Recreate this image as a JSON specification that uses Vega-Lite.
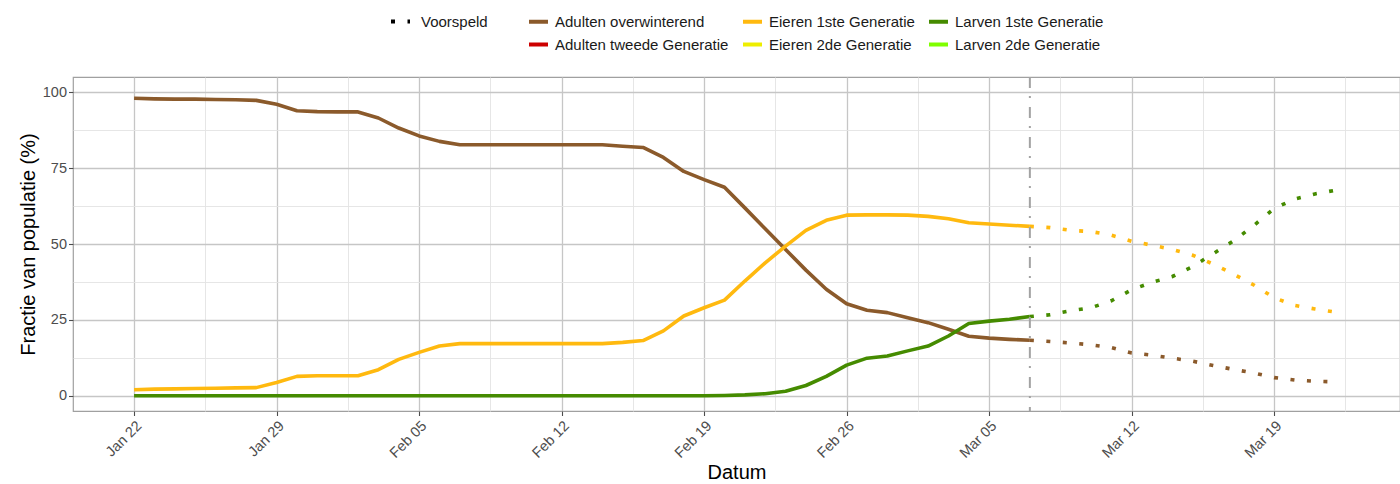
{
  "$schema": "https://vega.github.io/schema/vega-lite/v6.json",
  "width": 1327,
  "height": 334,
  "autosize": {"type": "none"},
  "padding": {"left": 73, "top": 77, "right": 0, "bottom": 73},
  "background": "white",
  "config": {
    "font": "Liberation Sans",
    "view": {"stroke": "#a0a0a0", "strokeWidth": 1.2}
  },
  "datasets": {
    "measured": [
      {"date": "2023-01-22T00:00", "series": "Adulten overwinterend", "value": 98.0},
      {"date": "2023-01-23T00:00", "series": "Adulten overwinterend", "value": 97.8},
      {"date": "2023-01-24T00:00", "series": "Adulten overwinterend", "value": 97.7},
      {"date": "2023-01-25T00:00", "series": "Adulten overwinterend", "value": 97.7},
      {"date": "2023-01-26T00:00", "series": "Adulten overwinterend", "value": 97.6},
      {"date": "2023-01-27T00:00", "series": "Adulten overwinterend", "value": 97.5},
      {"date": "2023-01-28T00:00", "series": "Adulten overwinterend", "value": 97.3},
      {"date": "2023-01-29T00:00", "series": "Adulten overwinterend", "value": 96.0},
      {"date": "2023-01-30T00:00", "series": "Adulten overwinterend", "value": 93.9},
      {"date": "2023-01-31T00:00", "series": "Adulten overwinterend", "value": 93.6},
      {"date": "2023-02-01T00:00", "series": "Adulten overwinterend", "value": 93.5},
      {"date": "2023-02-02T00:00", "series": "Adulten overwinterend", "value": 93.5},
      {"date": "2023-02-03T00:00", "series": "Adulten overwinterend", "value": 91.5},
      {"date": "2023-02-04T00:00", "series": "Adulten overwinterend", "value": 88.2},
      {"date": "2023-02-05T00:00", "series": "Adulten overwinterend", "value": 85.6},
      {"date": "2023-02-06T00:00", "series": "Adulten overwinterend", "value": 83.8},
      {"date": "2023-02-07T00:00", "series": "Adulten overwinterend", "value": 82.7},
      {"date": "2023-02-08T00:00", "series": "Adulten overwinterend", "value": 82.7},
      {"date": "2023-02-09T00:00", "series": "Adulten overwinterend", "value": 82.7},
      {"date": "2023-02-10T00:00", "series": "Adulten overwinterend", "value": 82.7},
      {"date": "2023-02-11T00:00", "series": "Adulten overwinterend", "value": 82.7},
      {"date": "2023-02-12T00:00", "series": "Adulten overwinterend", "value": 82.7},
      {"date": "2023-02-13T00:00", "series": "Adulten overwinterend", "value": 82.7},
      {"date": "2023-02-14T00:00", "series": "Adulten overwinterend", "value": 82.7},
      {"date": "2023-02-15T00:00", "series": "Adulten overwinterend", "value": 82.2},
      {"date": "2023-02-16T00:00", "series": "Adulten overwinterend", "value": 81.8},
      {"date": "2023-02-17T00:00", "series": "Adulten overwinterend", "value": 78.5},
      {"date": "2023-02-18T00:00", "series": "Adulten overwinterend", "value": 73.9},
      {"date": "2023-02-19T00:00", "series": "Adulten overwinterend", "value": 71.2},
      {"date": "2023-02-20T00:00", "series": "Adulten overwinterend", "value": 68.7},
      {"date": "2023-02-21T00:00", "series": "Adulten overwinterend", "value": 61.9},
      {"date": "2023-02-22T00:00", "series": "Adulten overwinterend", "value": 55.0},
      {"date": "2023-02-23T00:00", "series": "Adulten overwinterend", "value": 48.2},
      {"date": "2023-02-24T00:00", "series": "Adulten overwinterend", "value": 41.4},
      {"date": "2023-02-25T00:00", "series": "Adulten overwinterend", "value": 35.1},
      {"date": "2023-02-26T00:00", "series": "Adulten overwinterend", "value": 30.3},
      {"date": "2023-02-27T00:00", "series": "Adulten overwinterend", "value": 28.2},
      {"date": "2023-02-28T00:00", "series": "Adulten overwinterend", "value": 27.4},
      {"date": "2023-03-01T00:00", "series": "Adulten overwinterend", "value": 25.7},
      {"date": "2023-03-02T00:00", "series": "Adulten overwinterend", "value": 24.1},
      {"date": "2023-03-03T00:00", "series": "Adulten overwinterend", "value": 21.9},
      {"date": "2023-03-04T00:00", "series": "Adulten overwinterend", "value": 19.6},
      {"date": "2023-03-05T00:00", "series": "Adulten overwinterend", "value": 19.0},
      {"date": "2023-03-06T00:00", "series": "Adulten overwinterend", "value": 18.6},
      {"date": "2023-03-07T00:00", "series": "Adulten overwinterend", "value": 18.3},
      {"date": "2023-01-22T00:00", "series": "Eieren 1ste Generatie", "value": 2.0},
      {"date": "2023-01-23T00:00", "series": "Eieren 1ste Generatie", "value": 2.2},
      {"date": "2023-01-24T00:00", "series": "Eieren 1ste Generatie", "value": 2.3},
      {"date": "2023-01-25T00:00", "series": "Eieren 1ste Generatie", "value": 2.4},
      {"date": "2023-01-26T00:00", "series": "Eieren 1ste Generatie", "value": 2.5},
      {"date": "2023-01-27T00:00", "series": "Eieren 1ste Generatie", "value": 2.6},
      {"date": "2023-01-28T00:00", "series": "Eieren 1ste Generatie", "value": 2.7},
      {"date": "2023-01-29T00:00", "series": "Eieren 1ste Generatie", "value": 4.4},
      {"date": "2023-01-30T00:00", "series": "Eieren 1ste Generatie", "value": 6.4},
      {"date": "2023-01-31T00:00", "series": "Eieren 1ste Generatie", "value": 6.6},
      {"date": "2023-02-01T00:00", "series": "Eieren 1ste Generatie", "value": 6.6},
      {"date": "2023-02-02T00:00", "series": "Eieren 1ste Generatie", "value": 6.6},
      {"date": "2023-02-03T00:00", "series": "Eieren 1ste Generatie", "value": 8.6},
      {"date": "2023-02-04T00:00", "series": "Eieren 1ste Generatie", "value": 12.0},
      {"date": "2023-02-05T00:00", "series": "Eieren 1ste Generatie", "value": 14.3},
      {"date": "2023-02-06T00:00", "series": "Eieren 1ste Generatie", "value": 16.4},
      {"date": "2023-02-07T00:00", "series": "Eieren 1ste Generatie", "value": 17.2},
      {"date": "2023-02-08T00:00", "series": "Eieren 1ste Generatie", "value": 17.2},
      {"date": "2023-02-09T00:00", "series": "Eieren 1ste Generatie", "value": 17.2},
      {"date": "2023-02-10T00:00", "series": "Eieren 1ste Generatie", "value": 17.2},
      {"date": "2023-02-11T00:00", "series": "Eieren 1ste Generatie", "value": 17.2},
      {"date": "2023-02-12T00:00", "series": "Eieren 1ste Generatie", "value": 17.2},
      {"date": "2023-02-13T00:00", "series": "Eieren 1ste Generatie", "value": 17.2},
      {"date": "2023-02-14T00:00", "series": "Eieren 1ste Generatie", "value": 17.2},
      {"date": "2023-02-15T00:00", "series": "Eieren 1ste Generatie", "value": 17.6},
      {"date": "2023-02-16T00:00", "series": "Eieren 1ste Generatie", "value": 18.2},
      {"date": "2023-02-17T00:00", "series": "Eieren 1ste Generatie", "value": 21.4},
      {"date": "2023-02-18T00:00", "series": "Eieren 1ste Generatie", "value": 26.3},
      {"date": "2023-02-19T00:00", "series": "Eieren 1ste Generatie", "value": 29.0},
      {"date": "2023-02-20T00:00", "series": "Eieren 1ste Generatie", "value": 31.5},
      {"date": "2023-02-21T00:00", "series": "Eieren 1ste Generatie", "value": 37.8},
      {"date": "2023-02-22T00:00", "series": "Eieren 1ste Generatie", "value": 43.8},
      {"date": "2023-02-23T00:00", "series": "Eieren 1ste Generatie", "value": 49.3},
      {"date": "2023-02-24T00:00", "series": "Eieren 1ste Generatie", "value": 54.5},
      {"date": "2023-02-25T00:00", "series": "Eieren 1ste Generatie", "value": 57.8},
      {"date": "2023-02-26T00:00", "series": "Eieren 1ste Generatie", "value": 59.5},
      {"date": "2023-02-27T00:00", "series": "Eieren 1ste Generatie", "value": 59.6},
      {"date": "2023-02-28T00:00", "series": "Eieren 1ste Generatie", "value": 59.6},
      {"date": "2023-03-01T00:00", "series": "Eieren 1ste Generatie", "value": 59.5},
      {"date": "2023-03-02T00:00", "series": "Eieren 1ste Generatie", "value": 59.1},
      {"date": "2023-03-03T00:00", "series": "Eieren 1ste Generatie", "value": 58.3},
      {"date": "2023-03-04T00:00", "series": "Eieren 1ste Generatie", "value": 57.0},
      {"date": "2023-03-05T00:00", "series": "Eieren 1ste Generatie", "value": 56.6},
      {"date": "2023-03-06T00:00", "series": "Eieren 1ste Generatie", "value": 56.2},
      {"date": "2023-03-07T00:00", "series": "Eieren 1ste Generatie", "value": 55.8},
      {"date": "2023-01-22T00:00", "series": "Larven 1ste Generatie", "value": 0},
      {"date": "2023-01-23T00:00", "series": "Larven 1ste Generatie", "value": 0},
      {"date": "2023-01-24T00:00", "series": "Larven 1ste Generatie", "value": 0},
      {"date": "2023-01-25T00:00", "series": "Larven 1ste Generatie", "value": 0},
      {"date": "2023-01-26T00:00", "series": "Larven 1ste Generatie", "value": 0},
      {"date": "2023-01-27T00:00", "series": "Larven 1ste Generatie", "value": 0},
      {"date": "2023-01-28T00:00", "series": "Larven 1ste Generatie", "value": 0},
      {"date": "2023-01-29T00:00", "series": "Larven 1ste Generatie", "value": 0},
      {"date": "2023-01-30T00:00", "series": "Larven 1ste Generatie", "value": 0},
      {"date": "2023-01-31T00:00", "series": "Larven 1ste Generatie", "value": 0},
      {"date": "2023-02-01T00:00", "series": "Larven 1ste Generatie", "value": 0},
      {"date": "2023-02-02T00:00", "series": "Larven 1ste Generatie", "value": 0},
      {"date": "2023-02-03T00:00", "series": "Larven 1ste Generatie", "value": 0},
      {"date": "2023-02-04T00:00", "series": "Larven 1ste Generatie", "value": 0},
      {"date": "2023-02-05T00:00", "series": "Larven 1ste Generatie", "value": 0},
      {"date": "2023-02-06T00:00", "series": "Larven 1ste Generatie", "value": 0},
      {"date": "2023-02-07T00:00", "series": "Larven 1ste Generatie", "value": 0},
      {"date": "2023-02-08T00:00", "series": "Larven 1ste Generatie", "value": 0},
      {"date": "2023-02-09T00:00", "series": "Larven 1ste Generatie", "value": 0},
      {"date": "2023-02-10T00:00", "series": "Larven 1ste Generatie", "value": 0},
      {"date": "2023-02-11T00:00", "series": "Larven 1ste Generatie", "value": 0},
      {"date": "2023-02-12T00:00", "series": "Larven 1ste Generatie", "value": 0},
      {"date": "2023-02-13T00:00", "series": "Larven 1ste Generatie", "value": 0},
      {"date": "2023-02-14T00:00", "series": "Larven 1ste Generatie", "value": 0},
      {"date": "2023-02-15T00:00", "series": "Larven 1ste Generatie", "value": 0},
      {"date": "2023-02-16T00:00", "series": "Larven 1ste Generatie", "value": 0},
      {"date": "2023-02-17T00:00", "series": "Larven 1ste Generatie", "value": 0},
      {"date": "2023-02-18T00:00", "series": "Larven 1ste Generatie", "value": 0},
      {"date": "2023-02-19T00:00", "series": "Larven 1ste Generatie", "value": 0},
      {"date": "2023-02-20T00:00", "series": "Larven 1ste Generatie", "value": 0.1},
      {"date": "2023-02-21T00:00", "series": "Larven 1ste Generatie", "value": 0.3},
      {"date": "2023-02-22T00:00", "series": "Larven 1ste Generatie", "value": 0.7},
      {"date": "2023-02-23T00:00", "series": "Larven 1ste Generatie", "value": 1.5},
      {"date": "2023-02-24T00:00", "series": "Larven 1ste Generatie", "value": 3.4},
      {"date": "2023-02-25T00:00", "series": "Larven 1ste Generatie", "value": 6.4},
      {"date": "2023-02-26T00:00", "series": "Larven 1ste Generatie", "value": 10.1},
      {"date": "2023-02-27T00:00", "series": "Larven 1ste Generatie", "value": 12.4},
      {"date": "2023-02-28T00:00", "series": "Larven 1ste Generatie", "value": 13.1},
      {"date": "2023-03-01T00:00", "series": "Larven 1ste Generatie", "value": 14.8},
      {"date": "2023-03-02T00:00", "series": "Larven 1ste Generatie", "value": 16.4},
      {"date": "2023-03-03T00:00", "series": "Larven 1ste Generatie", "value": 19.7},
      {"date": "2023-03-04T00:00", "series": "Larven 1ste Generatie", "value": 23.8},
      {"date": "2023-03-05T00:00", "series": "Larven 1ste Generatie", "value": 24.6},
      {"date": "2023-03-06T00:00", "series": "Larven 1ste Generatie", "value": 25.2},
      {"date": "2023-03-07T00:00", "series": "Larven 1ste Generatie", "value": 26.1}
    ],
    "forecast": [
      {"date": "2023-03-07T00:00", "series": "Adulten overwinterend", "value": 18.3, "type": "Voorspeld"},
      {"date": "2023-03-08T00:00", "series": "Adulten overwinterend", "value": 17.9, "type": "Voorspeld"},
      {"date": "2023-03-09T00:00", "series": "Adulten overwinterend", "value": 17.4, "type": "Voorspeld"},
      {"date": "2023-03-10T00:00", "series": "Adulten overwinterend", "value": 16.8, "type": "Voorspeld"},
      {"date": "2023-03-11T00:00", "series": "Adulten overwinterend", "value": 15.9, "type": "Voorspeld"},
      {"date": "2023-03-12T00:00", "series": "Adulten overwinterend", "value": 14.1, "type": "Voorspeld"},
      {"date": "2023-03-13T00:00", "series": "Adulten overwinterend", "value": 13.4, "type": "Voorspeld"},
      {"date": "2023-03-14T00:00", "series": "Adulten overwinterend", "value": 12.4, "type": "Voorspeld"},
      {"date": "2023-03-15T00:00", "series": "Adulten overwinterend", "value": 11.4, "type": "Voorspeld"},
      {"date": "2023-03-16T00:00", "series": "Adulten overwinterend", "value": 10.0, "type": "Voorspeld"},
      {"date": "2023-03-17T00:00", "series": "Adulten overwinterend", "value": 8.7, "type": "Voorspeld"},
      {"date": "2023-03-18T00:00", "series": "Adulten overwinterend", "value": 7.5, "type": "Voorspeld"},
      {"date": "2023-03-19T00:00", "series": "Adulten overwinterend", "value": 6.0, "type": "Voorspeld"},
      {"date": "2023-03-20T00:00", "series": "Adulten overwinterend", "value": 5.2, "type": "Voorspeld"},
      {"date": "2023-03-21T00:00", "series": "Adulten overwinterend", "value": 4.8, "type": "Voorspeld"},
      {"date": "2023-03-22T00:00", "series": "Adulten overwinterend", "value": 4.6, "type": "Voorspeld"},
      {"date": "2023-03-07T00:00", "series": "Eieren 1ste Generatie", "value": 55.8, "type": "Voorspeld"},
      {"date": "2023-03-08T00:00", "series": "Eieren 1ste Generatie", "value": 55.4, "type": "Voorspeld"},
      {"date": "2023-03-09T00:00", "series": "Eieren 1ste Generatie", "value": 54.5, "type": "Voorspeld"},
      {"date": "2023-03-10T00:00", "series": "Eieren 1ste Generatie", "value": 54.1, "type": "Voorspeld"},
      {"date": "2023-03-11T00:00", "series": "Eieren 1ste Generatie", "value": 52.9, "type": "Voorspeld"},
      {"date": "2023-03-12T00:00", "series": "Eieren 1ste Generatie", "value": 50.9, "type": "Voorspeld"},
      {"date": "2023-03-13T00:00", "series": "Eieren 1ste Generatie", "value": 49.6, "type": "Voorspeld"},
      {"date": "2023-03-14T00:00", "series": "Eieren 1ste Generatie", "value": 48.2, "type": "Voorspeld"},
      {"date": "2023-03-15T00:00", "series": "Eieren 1ste Generatie", "value": 46.3, "type": "Voorspeld"},
      {"date": "2023-03-16T00:00", "series": "Eieren 1ste Generatie", "value": 43.4, "type": "Voorspeld"},
      {"date": "2023-03-17T00:00", "series": "Eieren 1ste Generatie", "value": 40.1, "type": "Voorspeld"},
      {"date": "2023-03-18T00:00", "series": "Eieren 1ste Generatie", "value": 36.5, "type": "Voorspeld"},
      {"date": "2023-03-19T00:00", "series": "Eieren 1ste Generatie", "value": 32.3, "type": "Voorspeld"},
      {"date": "2023-03-20T00:00", "series": "Eieren 1ste Generatie", "value": 29.8, "type": "Voorspeld"},
      {"date": "2023-03-21T00:00", "series": "Eieren 1ste Generatie", "value": 28.6, "type": "Voorspeld"},
      {"date": "2023-03-22T00:00", "series": "Eieren 1ste Generatie", "value": 27.6, "type": "Voorspeld"},
      {"date": "2023-03-07T00:00", "series": "Larven 1ste Generatie", "value": 26.1, "type": "Voorspeld"},
      {"date": "2023-03-08T00:00", "series": "Larven 1ste Generatie", "value": 26.7, "type": "Voorspeld"},
      {"date": "2023-03-09T00:00", "series": "Larven 1ste Generatie", "value": 28.0, "type": "Voorspeld"},
      {"date": "2023-03-10T00:00", "series": "Larven 1ste Generatie", "value": 29.0, "type": "Voorspeld"},
      {"date": "2023-03-11T00:00", "series": "Larven 1ste Generatie", "value": 31.3, "type": "Voorspeld"},
      {"date": "2023-03-12T00:00", "series": "Larven 1ste Generatie", "value": 34.9, "type": "Voorspeld"},
      {"date": "2023-03-13T00:00", "series": "Larven 1ste Generatie", "value": 37.4, "type": "Voorspeld"},
      {"date": "2023-03-14T00:00", "series": "Larven 1ste Generatie", "value": 39.3, "type": "Voorspeld"},
      {"date": "2023-03-15T00:00", "series": "Larven 1ste Generatie", "value": 42.6, "type": "Voorspeld"},
      {"date": "2023-03-16T00:00", "series": "Larven 1ste Generatie", "value": 46.8, "type": "Voorspeld"},
      {"date": "2023-03-17T00:00", "series": "Larven 1ste Generatie", "value": 51.0, "type": "Voorspeld"},
      {"date": "2023-03-18T00:00", "series": "Larven 1ste Generatie", "value": 56.1, "type": "Voorspeld"},
      {"date": "2023-03-19T00:00", "series": "Larven 1ste Generatie", "value": 61.7, "type": "Voorspeld"},
      {"date": "2023-03-20T00:00", "series": "Larven 1ste Generatie", "value": 64.8, "type": "Voorspeld"},
      {"date": "2023-03-21T00:00", "series": "Larven 1ste Generatie", "value": 66.5, "type": "Voorspeld"},
      {"date": "2023-03-22T00:00", "series": "Larven 1ste Generatie", "value": 67.7, "type": "Voorspeld"}
    ],
    "cutoff": [{"date": "2023-03-07T00:00"}]
  },
  "layer": [
    {
      "data": {"name": "measured"},
      "mark": {"type": "line", "strokeWidth": 3.6, "strokeCap": "butt", "strokeJoin": "round"},
      "encoding": {
        "x": {
          "field": "date",
          "type": "temporal",
          "scale": {
            "domain": [
              {"year": 2023, "month": 1, "date": 19},
              {"year": 2023, "month": 3, "date": 25, "hours": 4, "minutes": 20}
            ],
            "nice": false
          },
          "axis": {
            "title": "Datum",
            "titleFontSize": 20,
            "titleFontWeight": "normal",
            "titleColor": "#000000",
            "titlePadding": 3,
            "values": [
              {"year": 2023, "month": 1, "date": 22},
              {"year": 2023, "month": 1, "date": 25, "hours": 12},
              {"year": 2023, "month": 1, "date": 29},
              {"year": 2023, "month": 2, "date": 1, "hours": 12},
              {"year": 2023, "month": 2, "date": 5},
              {"year": 2023, "month": 2, "date": 8, "hours": 12},
              {"year": 2023, "month": 2, "date": 12},
              {"year": 2023, "month": 2, "date": 15, "hours": 12},
              {"year": 2023, "month": 2, "date": 19},
              {"year": 2023, "month": 2, "date": 22, "hours": 12},
              {"year": 2023, "month": 2, "date": 26},
              {"year": 2023, "month": 3, "date": 1, "hours": 12},
              {"year": 2023, "month": 3, "date": 5},
              {"year": 2023, "month": 3, "date": 8, "hours": 12},
              {"year": 2023, "month": 3, "date": 12},
              {"year": 2023, "month": 3, "date": 15, "hours": 12},
              {"year": 2023, "month": 3, "date": 19},
              {"year": 2023, "month": 3, "date": 22, "hours": 12}
            ],
            "labelExpr": "hours(datum.value) == 12 ? '' : timeFormat(datum.value, '%b %d')",
            "labelAngle": -45,
            "labelAlign": "right",
            "labelBaseline": "top",
            "labelFontSize": 14.5,
            "labelColor": "#4d4d4d",
            "labelPadding": 3,
            "labelOverlap": false,
            "labelFlush": false,
            "labelBound": false,
            "domain": false,
            "grid": true,
            "gridColor": {"condition": {"test": "hours(datum.value) == 12", "value": "#e3e3e3"}, "value": "#c6c6c6"},
            "gridWidth": {"condition": {"test": "hours(datum.value) == 12", "value": 0.9}, "value": 1.3},
            "tickColor": {"condition": {"test": "hours(datum.value) == 12", "value": "transparent"}, "value": "#4d4d4d"},
            "tickSize": 4.5,
            "tickWidth": 1.1
          }
        },
        "y": {
          "field": "value",
          "type": "quantitative",
          "scale": {"domain": [-5, 105], "nice": false, "zero": false},
          "axis": {
            "title": "Fractie van populatie (%)",
            "titleFontSize": 20,
            "titleFontWeight": "normal",
            "titleColor": "#000000",
            "titlePadding": 4,
            "values": [0, 12.5, 25, 37.5, 50, 62.5, 75, 87.5, 100],
            "labelExpr": "datum.value % 25 == 0 ? format(datum.value, 'd') : ''",
            "labelFontSize": 14.5,
            "labelColor": "#4d4d4d",
            "labelPadding": 2,
            "labelOverlap": false,
            "domain": false,
            "grid": true,
            "gridColor": {"condition": {"test": "datum.value % 25 != 0", "value": "#e3e3e3"}, "value": "#c6c6c6"},
            "gridWidth": {"condition": {"test": "datum.value % 25 != 0", "value": 0.9}, "value": 1.3},
            "tickColor": {"condition": {"test": "datum.value % 25 != 0", "value": "transparent"}, "value": "#4d4d4d"},
            "tickSize": 4.5,
            "tickWidth": 1.1
          }
        },
        "color": {
          "field": "series",
          "type": "nominal",
          "scale": {
            "domain": ["Adulten overwinterend", "Eieren 1ste Generatie", "Larven 1ste Generatie", "Adulten tweede Generatie", "Eieren 2de Generatie", "Larven 2de Generatie"],
            "range": ["#8B5A2B", "#FFB90F", "#458B00", "#CD0000", "#EEEE00", "#7FFF00"]
          },
          "legend": {
            "orient": "none",
            "legendX": 454,
            "legendY": -67,
            "title": null,
            "direction": "horizontal",
            "columns": 3,
            "symbolType": "stroke",
            "symbolSize": 361,
            "symbolStrokeWidth": 4,
            "labelFontSize": 15,
            "labelColor": "#1a1a1a",
            "labelOffset": 5,
            "labelLimit": 400,
            "columnPadding": 6,
            "rowPadding": 3,
            "padding": 0
          }
        }
      }
    },
    {
      "data": {"name": "forecast"},
      "mark": {"type": "line", "strokeWidth": 3.6, "strokeCap": "butt"},
      "encoding": {
        "x": {"field": "date", "type": "temporal"},
        "y": {"field": "value", "type": "quantitative"},
        "color": {"field": "series", "type": "nominal"},
        "strokeDash": {
          "field": "type",
          "type": "nominal",
          "scale": {"domain": ["Voorspeld"], "range": [[4, 12.5]]},
          "legend": {
            "orient": "none",
            "legendX": 316,
            "legendY": -67,
            "title": null,
            "symbolType": "stroke",
            "symbolSize": 361,
            "symbolStrokeWidth": 4,
            "symbolStrokeColor": "#000000",
            "labelFontSize": 15,
            "labelColor": "#1a1a1a",
            "labelOffset": 9,
            "padding": 0
          }
        }
      }
    },
    {
      "data": {"name": "cutoff"},
      "mark": {"type": "rule", "color": "#a3a3a3", "strokeWidth": 2, "strokeDash": [11, 8, 2, 9]},
      "encoding": {"x": {"field": "date", "type": "temporal"}}
    }
  ]
}
